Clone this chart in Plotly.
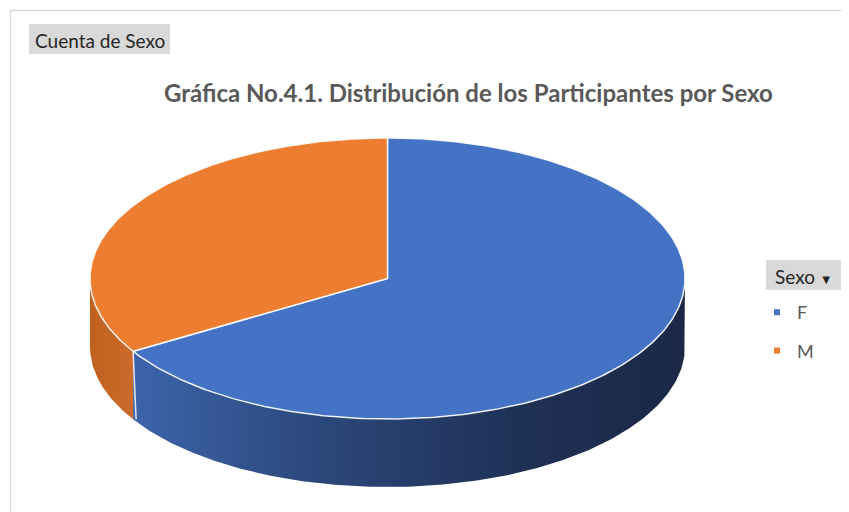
import numpy as np
import plotly.graph_objs as go

# data
labels = ['F', 'M']
counts = [65, 33]
top_colors = ['#4472C4', '#ED7D31']
side_scales = [
    [[0, '#3d63ab'], [0.35, '#2b4779'], [0.7, '#1f3156'], [1, '#1b2846']],
    [[0, '#c0611f'], [1, '#cc6b2b']],
]
title = 'Gráfica No.4.1. Distribución de los Participantes por Sexo'

W, H = 849, 512
OFF = 8  # the page body has an 8px margin, so the figure starts at (8, 8)
# pie geometry in pixels (x right, y down)
cx, cy, a, b, depth = 387.5, 278.5, 297.5, 140.5, 68


def pt(theta, dz=0.0):
    t = np.radians(theta)
    return cx + a * np.cos(t), cy - b * np.sin(t) + dz


def front_part(lo, hi):
    # part of [lo, hi] (degrees) facing the viewer, i.e. sin < 0
    for k in range(-2, 2):
        f0, f1 = -180 + 360 * k, 360 * k
        s, e = max(lo, f0), min(hi, f1)
        if e > s:
            return s, e
    return None


total = sum(counts)
bounds = []
start = 90.0
for v in counts:
    end = start - 360.0 * v / total
    bounds.append((end, start))
    start = end

fig = go.Figure()

# side walls first
for (lo, hi), scale in zip(bounds, side_scales):
    fp = front_part(lo, hi)
    if fp is None:
        continue
    th = np.linspace(fp[0], fp[1], 200)
    xt, yt = pt(th)
    xb, yb = pt(th[::-1], depth)
    fig.add_trace(go.Scatter(
        x=np.r_[xt, xb, xt[:1]], y=np.r_[yt, yb, yt[:1]],
        mode='lines', fill='toself', line=dict(width=0),
        fillgradient=dict(type='horizontal', colorscale=scale),
        hoverinfo='skip', showlegend=False))

# white edge where the two side walls meet
for lo, hi in bounds:
    if front_part(lo, lo + 0.01) and front_part(lo - 0.01, lo):
        x0, y0 = pt(lo)
        x1, y1 = pt(lo, depth)
        fig.add_trace(go.Scatter(x=[x0, x1 + 3], y=[y0, y1], mode='lines',
                                 line=dict(color='rgba(255,255,255,0.85)', width=1.5),
                                 hoverinfo='skip', showlegend=False))

# top faces
for (lo, hi), col, lab, v in zip(bounds, top_colors, labels, counts):
    th = np.linspace(hi, lo, 300)
    xs, ys = pt(th)
    fig.add_trace(go.Scatter(
        x=np.r_[cx, xs, cx], y=np.r_[cy, ys, cy],
        mode='lines', fill='toself', fillcolor=col,
        line=dict(color='rgba(255,255,255,0.9)', width=1.5),
        name=lab, text=f'{lab}: {v}', hoverinfo='text', showlegend=False))

# legend entries
for i, (lab, col) in enumerate(zip(labels, top_colors)):
    fig.add_trace(go.Scatter(x=[None], y=[None], mode='markers', name=lab,
                             marker=dict(symbol='square', size=6, color=col),
                             legendgroup=lab))

fig.update_layout(
    width=W - OFF, height=H - OFF,
    margin=dict(l=0, r=0, t=0, b=0),
    paper_bgcolor='white', plot_bgcolor='white',
    xaxis=dict(range=[OFF, W], visible=False, fixedrange=True),
    yaxis=dict(range=[H, OFF], visible=False, fixedrange=True),
    font=dict(family='Lato, Arial', color='#595959'),
    legend=dict(x=(757 - OFF) / (W - OFF), y=1 - (294 - OFF) / (H - OFF),
                xanchor='left', yanchor='top',
                bgcolor='rgba(0,0,0,0)', font=dict(size=18, color='#595959'),
                tracegroupgap=12, traceorder='grouped'),
    shapes=[
        # chart border (top and left visible)
        dict(type='rect', xref='x', yref='y', x0=10.5, y0=10.5, x1=900, y1=600,
             line=dict(color='#d9d9d9', width=1.5), layer='below'),
        # field buttons
        dict(type='rect', xref='x', yref='y', x0=29, y0=24, x1=170, y1=54,
             fillcolor='#d9d9d9', line=dict(width=0), layer='below'),
        dict(type='rect', xref='x', yref='y', x0=766, y0=260, x1=844, y1=290,
             fillcolor='#d9d9d9', line=dict(width=0), layer='below'),
    ],
    annotations=[
        dict(text='Cuenta de Sexo', x=99.5, y=40, xref='x', yref='y',
             showarrow=False, font=dict(size=19, color='#262626')),
        dict(text='Sexo <span style="font-size:13px">▼</span>', x=804, y=276,
             xref='x', yref='y',
             showarrow=False, font=dict(size=19, color='#262626')),
        dict(text=f'<b>{title}</b>', x=468.5, y=92, xref='x', yref='y',
             showarrow=False, font=dict(size=24, color='#595959')),
    ],
)

fig.write_html('out.html')
